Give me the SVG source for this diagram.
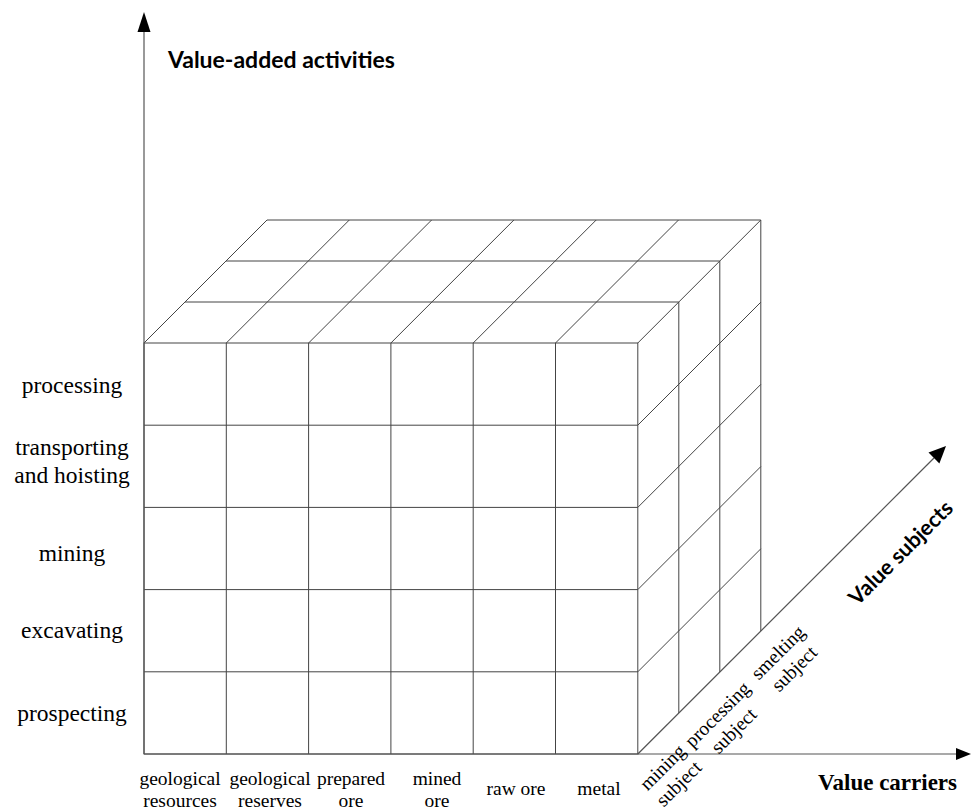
<svg xmlns="http://www.w3.org/2000/svg" width="971" height="810" viewBox="0 0 971 810">
<style>
.ln{stroke:#444;stroke-width:1;fill:none}
.ax{stroke:#555;stroke-width:1.2;fill:none}
.ah{fill:#000;stroke:none}
.ser{font-family:"Liberation Serif","Times New Roman",serif;font-size:19.5px;fill:#000}
.lab{font-family:"Liberation Serif","Times New Roman",serif;font-size:23.5px;fill:#000;text-anchor:middle}
.bs{font-family:Lato,"Open Sans",sans-serif;font-weight:bold;fill:#000}
</style>
<rect width="971" height="810" fill="#fff"/>
<g id="cube">
  <rect class="ln" x="144" y="343" width="493.8" height="411"/>
  <path class="ln" d="M144,425.2H637.8M144,507.4H637.8M144,589.6H637.8M144,671.8H637.8"/>
  <path class="ln" d="M226.3,343V754M308.6,343V754M390.9,343V754M473.2,343V754M555.5,343V754"/>
  <path class="ln" d="M185,302H678.8M226,261H719.8M267,220H760.8"/>
  <path class="ln" d="M144,343L267,220M226.3,343L349.3,220M308.6,343L431.6,220M390.9,343L513.9,220M473.2,343L596.2,220M555.5,343L678.5,220M637.8,343L760.8,220"/>
  <path class="ln" d="M678.8,302V713M719.8,261V672M760.8,220V631"/>
  <path class="ln" d="M637.8,425.2L760.8,302.2M637.8,507.4L760.8,384.4M637.8,589.6L760.8,466.6M637.8,671.8L760.8,548.8"/>
</g>
<g id="axes">
  <path class="ax" d="M144,754V30"/>
  <polygon class="ah" points="144,12 137.5,32 150.5,32"/>
  <path class="ax" d="M144,754H958"/>
  <polygon class="ah" points="971,754 956,748 956,760"/>
  <path class="ax" d="M637.8,754L934,458"/>
  <polygon class="ah" points="946,446 939.4,463.5 928.5,452.6"/>
</g>
<g id="axis-titles">
  <text class="bs" x="168" y="68" font-size="23">Value-added activities</text>
  <text class="bs" transform="translate(906,558) rotate(-45)" text-anchor="middle" font-size="21.5">Value subjects</text>
  <text x="818" y="790" font-family="'Liberation Serif','Times New Roman',serif" font-weight="bold" font-size="23">Value carriers</text>
</g>
<g id="activities">
  <text class="lab" x="72" y="393">processing</text>
  <text class="lab" x="72" y="455">transporting</text>
  <text class="lab" x="72" y="483">and hoisting</text>
  <text class="lab" x="72" y="561">mining</text>
  <text class="lab" x="72" y="638">excavating</text>
  <text class="lab" x="72" y="721">prospecting</text>
</g>
<g id="carriers" class="ser" text-anchor="middle">
  <text x="180" y="785">geological</text>
  <text x="180" y="807">resources</text>
  <text x="270" y="785">geological</text>
  <text x="270" y="807">reserves</text>
  <text x="351" y="785">prepared</text>
  <text x="351" y="807">ore</text>
  <text x="437" y="785">mined</text>
  <text x="437" y="807">ore</text>
  <text x="516" y="795">raw ore</text>
  <text x="599" y="795">metal</text>
</g>
<g id="subjects" class="ser" text-anchor="middle">
  <g transform="translate(667,772) rotate(-45)"><text x="0" y="0">mining</text><text x="0" y="23">subject</text></g>
  <g transform="translate(722,719) rotate(-45)"><text x="0" y="0">processing</text><text x="0" y="23">subject</text></g>
  <g transform="translate(782.5,657) rotate(-45)"><text x="0" y="0">smelting</text><text x="0" y="23">subject</text></g>
</g>
</svg>
